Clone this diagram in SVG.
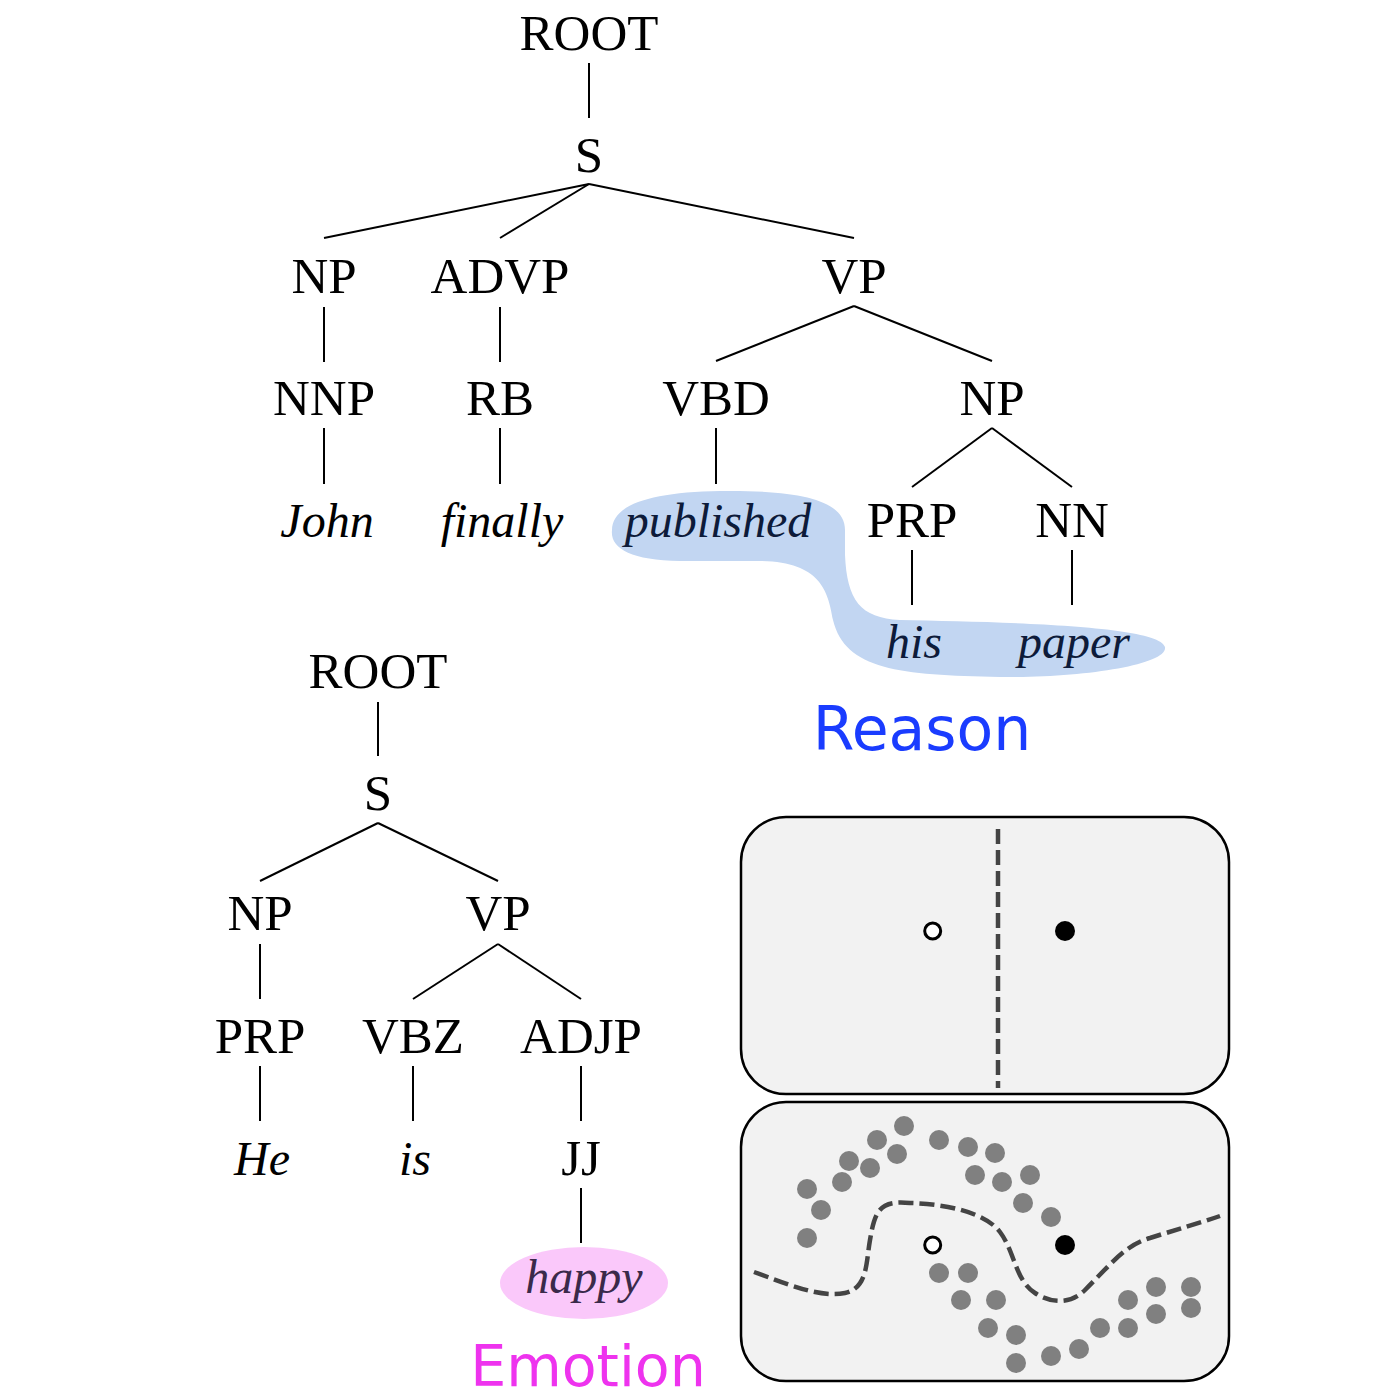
<svg xmlns="http://www.w3.org/2000/svg" width="1400" height="1400" viewBox="0 0 1400 1400">
<style>
.t{font-family:"Liberation Serif","Times New Roman",serif;font-size:51px;fill:#000;text-anchor:middle}
.i{font-style:italic;font-size:48px}
.e{stroke:#000;stroke-width:2;fill:none}
.panel{fill:#f2f2f2;stroke:#000;stroke-width:2.5}
.dash{fill:none;stroke:#444;stroke-width:4.5;stroke-dasharray:15 6}
.g{fill:#808080}
.lab{font-family:"DejaVu Sans","Liberation Sans",sans-serif;font-size:60px;text-anchor:middle}
</style>
<rect width="1400" height="1400" fill="#fff"/>
<g id="highlights">
<path d="M 612,530 C 612,505 650,492 720,491 C 800,490 845,500 845,530 L 845,555 C 847,600 860,618 900,620 C 1000,622 1160,625 1165,647 C 1168,665 1080,678 1000,677 C 900,675 845,670 833,620 C 828,590 820,562 760,561 L 680,561 C 630,560 610,548 612,530 Z" fill="#c2d6f2"/>
<ellipse cx="584" cy="1283" rx="84" ry="36" fill="#fac8fa"/>
</g>
<g id="connectors" class="e">
<line x1="589" y1="63" x2="589" y2="118"/>
<line x1="589" y1="184" x2="324" y2="238"/>
<line x1="589" y1="184" x2="500" y2="238"/>
<line x1="589" y1="184" x2="854" y2="238"/>
<line x1="324" y1="307" x2="324" y2="362"/>
<line x1="500" y1="307" x2="500" y2="362"/>
<line x1="854" y1="306" x2="716" y2="361"/>
<line x1="854" y1="306" x2="992" y2="361"/>
<line x1="324" y1="428" x2="324" y2="484"/>
<line x1="500" y1="428" x2="500" y2="484"/>
<line x1="716" y1="428" x2="716" y2="484"/>
<line x1="992" y1="428" x2="912" y2="487"/>
<line x1="992" y1="428" x2="1072" y2="487"/>
<line x1="912" y1="550" x2="912" y2="605"/>
<line x1="1072" y1="550" x2="1072" y2="605"/>
<line x1="378" y1="702" x2="378" y2="756"/>
<line x1="378" y1="823" x2="260" y2="881"/>
<line x1="378" y1="823" x2="498" y2="881"/>
<line x1="260" y1="944" x2="260" y2="999"/>
<line x1="498" y1="944" x2="413" y2="999"/>
<line x1="498" y1="944" x2="581" y2="999"/>
<line x1="260" y1="1066" x2="260" y2="1121"/>
<line x1="413" y1="1066" x2="413" y2="1121"/>
<line x1="581" y1="1066" x2="581" y2="1121"/>
<line x1="581" y1="1188" x2="581" y2="1243"/>
</g>
<g id="tree1">
<text id="root1" class="t" x="589" y="50">ROOT</text>
<text id="s1" class="t" x="589" y="172">S</text>
<text id="np1" class="t" x="324" y="293">NP</text>
<text id="advp1" class="t" x="500" y="293">ADVP</text>
<text id="vp1" class="t" x="854" y="293">VP</text>
<text id="nnp1" class="t" x="324" y="415">NNP</text>
<text id="rb1" class="t" x="500" y="415">RB</text>
<text id="vbd1" class="t" x="716" y="415">VBD</text>
<text id="np2" class="t" x="992" y="415">NP</text>
<text id="john" class="t i" x="327" y="537">John</text>
<text id="finally" class="t i" x="502" y="537">finally</text>
<text id="published" class="t i" x="718" y="537" style="fill:#0d1b3a">published</text>
<text id="prp1" class="t" x="912" y="537">PRP</text>
<text id="nn1" class="t" x="1072" y="537">NN</text>
<text id="his" class="t i" x="914" y="658" style="fill:#0d1b3a">his</text>
<text id="paper" class="t i" x="1074" y="658" style="fill:#0d1b3a">paper</text>
<text id="reason" class="lab" x="922" y="750" fill="#1a3cff">Reason</text>
</g>
<g id="tree2">
<text id="root2" class="t" x="378" y="688">ROOT</text>
<text id="s2" class="t" x="378" y="810">S</text>
<text id="np3" class="t" x="260" y="930">NP</text>
<text id="vp2" class="t" x="498" y="930">VP</text>
<text id="prp2" class="t" x="260" y="1053">PRP</text>
<text id="vbz" class="t" x="413" y="1053">VBZ</text>
<text id="adjp" class="t" x="581" y="1053">ADJP</text>
<text id="he" class="t i" x="262" y="1175">He</text>
<text id="is" class="t i" x="415" y="1175">is</text>
<text id="jj" class="t" x="581" y="1175">JJ</text>
<text id="happy" class="t i" x="584" y="1293" style="fill:#3a2a4a">happy</text>
<text id="emotion" class="lab" x="588" y="1386" fill="#ee33ee" style="font-size:57px">Emotion</text>
</g>
<g id="panel-linear">
<rect class="panel" x="741" y="817" width="488" height="277" rx="45"/>
<line class="dash" x1="998" y1="829" x2="998" y2="1088"/>
<circle cx="932.7" cy="931" r="8" fill="#fff" stroke="#000" stroke-width="3"/>
<circle cx="1065" cy="931" r="10" fill="#000"/>
</g>
<g id="panel-nonlinear">
<rect class="panel" x="741" y="1102" width="488" height="279" rx="45"/>
<path class="dash" d="M 754,1272 C 790,1285 820,1298 845,1293 C 868,1288 866,1262 870,1240 C 875,1210 880,1200 910,1203 C 945,1204 985,1212 1000,1232 C 1015,1252 1015,1280 1035,1293 C 1050,1303 1070,1305 1085,1290 C 1110,1265 1125,1245 1150,1238 C 1175,1230 1200,1223 1220,1216"/>
<g class="g">
<circle cx="904" cy="1126" r="10"/>
<circle cx="877" cy="1140" r="10"/>
<circle cx="897" cy="1154" r="10"/>
<circle cx="849" cy="1161" r="10"/>
<circle cx="870" cy="1168" r="10"/>
<circle cx="842" cy="1182" r="10"/>
<circle cx="807" cy="1189" r="10"/>
<circle cx="821" cy="1210" r="10"/>
<circle cx="807" cy="1238" r="10"/>
<circle cx="939" cy="1140" r="10"/>
<circle cx="968" cy="1147" r="10"/>
<circle cx="995" cy="1153" r="10"/>
<circle cx="975" cy="1175" r="10"/>
<circle cx="1002" cy="1182" r="10"/>
<circle cx="1030" cy="1175" r="10"/>
<circle cx="1023" cy="1203" r="10"/>
<circle cx="1051" cy="1217" r="10"/>
<circle cx="939" cy="1273" r="10"/>
<circle cx="968" cy="1273" r="10"/>
<circle cx="961" cy="1300" r="10"/>
<circle cx="996" cy="1300" r="10"/>
<circle cx="988" cy="1328" r="10"/>
<circle cx="1016" cy="1335" r="10"/>
<circle cx="1016" cy="1363" r="10"/>
<circle cx="1051" cy="1356" r="10"/>
<circle cx="1079" cy="1349" r="10"/>
<circle cx="1100" cy="1328" r="10"/>
<circle cx="1128" cy="1300" r="10"/>
<circle cx="1128" cy="1328" r="10"/>
<circle cx="1156" cy="1287" r="10"/>
<circle cx="1156" cy="1314" r="10"/>
<circle cx="1191" cy="1287" r="10"/>
<circle cx="1191" cy="1308" r="10"/>
</g>
<circle cx="932.7" cy="1245" r="8" fill="#fff" stroke="#000" stroke-width="3"/>
<circle cx="1065" cy="1245" r="10" fill="#000"/>
</g>
</svg>
